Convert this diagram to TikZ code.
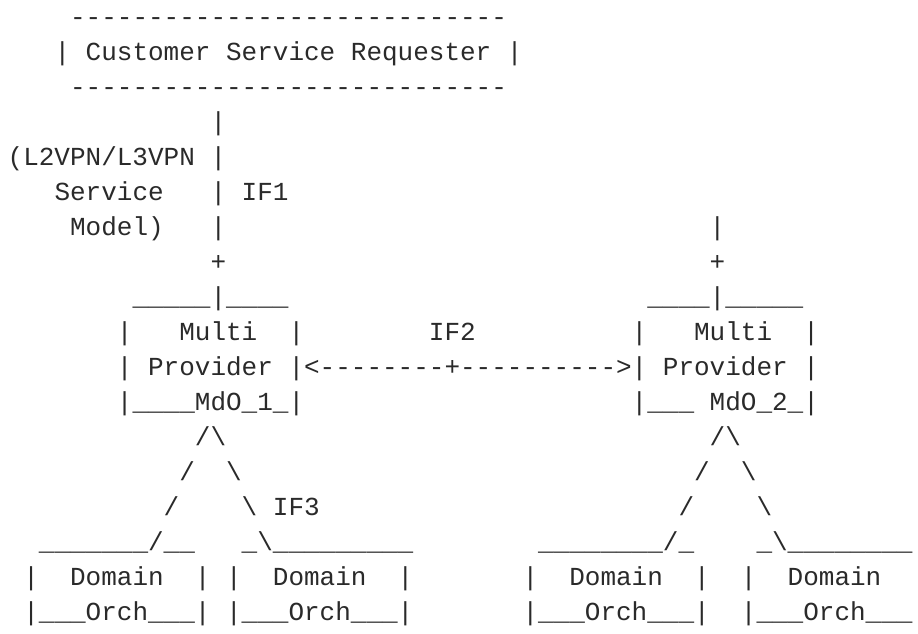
\documentclass[tikz,border=0pt]{standalone}
\usepackage{fontspec}
\setmonofont{Liberation Mono}
\usepackage{tikz}

\definecolor{ink}{HTML}{2A2A2A}

% one character cell of the monospaced grid
\newcommand\cellw{15.6pt}
\newcommand\lineh{35pt}

\tikzset{
  glyphs/.style={anchor=base west, inner sep=0pt, outer sep=0pt,
    text=ink, font=\ttfamily\fontsize{26pt}{35pt}\selectfont},
}

% \ascii{name}{row}{column}{characters}
\newcommand\ascii[4]{%
  \node[glyphs] (#1) at ({7.7pt+#3*\cellw},{-25.6pt-#2*\lineh}) {#4};}

\newcommand\bs{\textbackslash}

\begin{document}
\begin{tikzpicture}
\fill[white] (0,0) rectangle (918pt,-633pt);
\useasboundingbox (0,0) rectangle (918pt,-633pt);

% customer service requester
\ascii{custtop}{0}{4}{----------------------------}
\ascii{cust}{1}{3}{|~Customer~Service~Requester~|}
\ascii{custbot}{2}{4}{----------------------------}

% IF1 and the service model
\ascii{if1a}{3}{13}{|}
\ascii{model1}{4}{0}{(L2VPN/L3VPN~|}
\ascii{model2}{5}{3}{Service}
\ascii{if1}{5}{13}{|~IF1}
\ascii{model3}{6}{4}{Model)}
\ascii{if1b}{6}{13}{|}
\ascii{uplink2}{6}{45}{|}
\ascii{plus1}{7}{13}{+}
\ascii{plus2}{7}{45}{+}

% the two multi provider orchestrators
\ascii{mdo1top}{8}{8}{\_\_\_\_\_|\_\_\_\_}
\ascii{mdo2top}{8}{41}{\_\_\_\_|\_\_\_\_\_}
\ascii{mdo1a}{9}{7}{|~~~Multi~~|}
\ascii{if2}{9}{27}{IF2}
\ascii{mdo2a}{9}{40}{|~~~Multi~~|}
\ascii{mdo1b}{10}{7}{|~Provider~|<--------+---------->|~Provider~|}
\ascii{mdo1c}{11}{7}{|\_\_\_\_MdO\_1\_|}
\ascii{mdo2c}{11}{40}{|\_\_\_~MdO\_2\_|}

% IF3 branches
\ascii{br1a}{12}{12}{/\bs}
\ascii{br2a}{12}{45}{/\bs}
\ascii{br1b}{13}{11}{/~~\bs}
\ascii{br2b}{13}{44}{/~~\bs}
\ascii{br1c}{14}{10}{/~~~~\bs~IF3}
\ascii{br2c}{14}{43}{/~~~~\bs}

% domain orchestrators
\ascii{dom1top}{15}{2}{\_\_\_\_\_\_\_/\_\_~~~\_\bs\_\_\_\_\_\_\_\_\_}
\ascii{dom2top}{15}{34}{\_\_\_\_\_\_\_\_/\_~~~~\_\bs\_\_\_\_\_\_\_\_}
\ascii{dom1a}{16}{1}{|~~Domain~~|~|~~Domain~~|}
\ascii{dom2a}{16}{33}{|~~Domain~~|~~|~~Domain}
\ascii{dom1b}{17}{1}{|\_\_\_Orch\_\_\_|~|\_\_\_Orch\_\_\_|}
\ascii{dom2b}{17}{33}{|\_\_\_Orch\_\_\_|~~|\_\_\_Orch\_\_\_}
\end{tikzpicture}
\end{document}
